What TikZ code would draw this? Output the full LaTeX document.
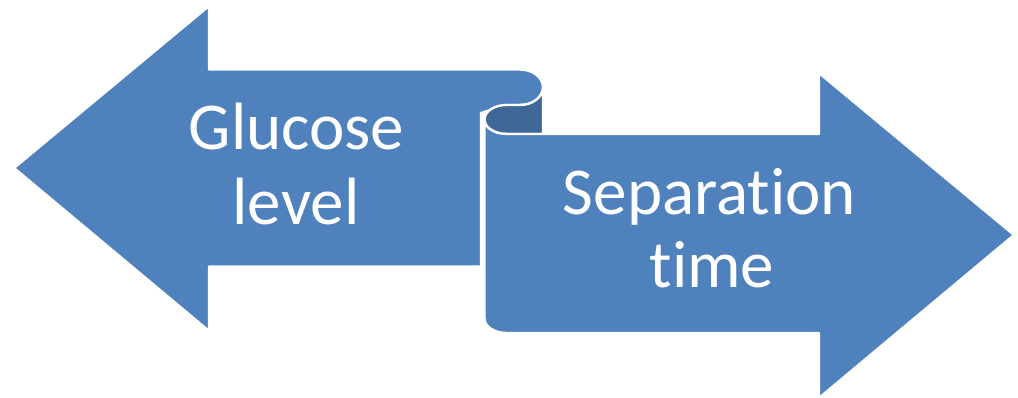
\documentclass[tikz,border=0pt]{standalone}
\usepackage{fontspec}
\setmainfont{Carlito}[Ligatures={NoCommon}]
\definecolor{arrowblue}{HTML}{4F81BD}
\definecolor{rolldark}{HTML}{3F6797}
\begin{document}
\begin{tikzpicture}[x=1pt,y=1pt,
  piece/.style={fill=arrowblue,draw=white,line width=2.4pt,line join=round},
  inner/.style={fill=rolldark,draw=white,line width=2.4pt,line join=round},
  label/.style={text=white,anchor=base,inner sep=0pt,font=\fontsize{67}{80}\selectfont}]
\useasboundingbox (0,0) rectangle (1018,398);
% left arrow with curl
\path[piece] (14,230) -- (209,392) -- (209,328.5) -- (520,328.5)
  arc[start angle=90,end angle=-90,x radius=23,y radius=17.75]
  -- (506.5,293) -- (481,285) -- (481,131.5) -- (209,131.5) -- (209,67) -- cycle;
% dark inside of roll
\path[inner] (484.5,278.5) arc[start angle=180,end angle=90,x radius=22,y radius=14.5]
  -- (520,293) arc[start angle=-90,end angle=0,x radius=23,y radius=17.75]
  -- (543,264) -- (506.5,264)
  arc[start angle=270,end angle=180,x radius=22,y radius=14.5] -- cycle;
% right arrow with rolled front
\path[piece] (506.5,264) -- (819,264) -- (819,325) -- (1014,163) -- (819,0) -- (819,65)
  -- (506.5,65) arc[start angle=270,end angle=180,x radius=22,y radius=14.5]
  -- (484.5,278.5) arc[start angle=180,end angle=270,x radius=22,y radius=14.5] -- cycle;
% labels
\node[label] (g1) at (296.5,248) {Glucose};
\node[label] (g2) at (296,173) {level};
\node[label] (s1) at (709.5,183) {Separation};
\node[label] (s2) at (712,110) {time};
\end{tikzpicture}
\end{document}
